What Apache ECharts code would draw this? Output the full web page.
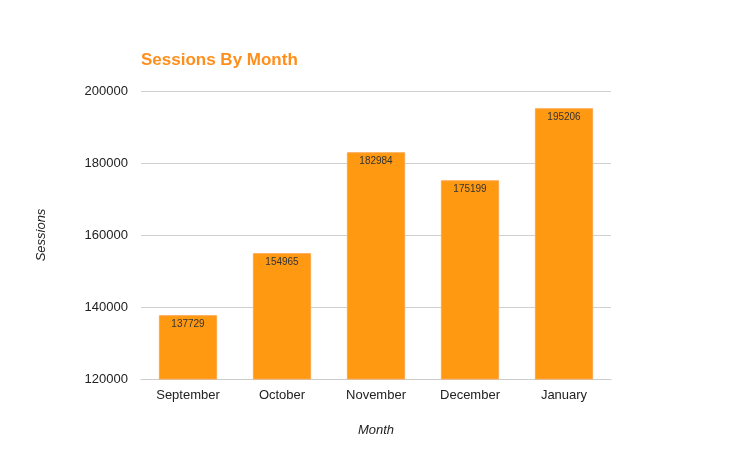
<!DOCTYPE html>
<html>
<head>
<meta charset="utf-8">
<script src="https://cdn.jsdelivr.net/npm/echarts@6/dist/echarts.min.js"></script>
<style>
  html, body { margin: 0; padding: 0; background: #fff; }
  #chart { width: 750px; height: 468px; }
</style>
</head>
<body>
<div id="chart"></div>
<script>
const months = ["September", "October", "November", "December", "January"];
const sessions = [137729, 154965, 182984, 175199, 195206];

const chart = echarts.init(document.getElementById("chart"));

chart.setOption({
    backgroundColor: "#fff",
    animation: false,
    title: {
        text: "Sessions By Month",
        left: 136,
        top: 47,
        textStyle: { color: "#ff8f1c", fontSize: 17, fontWeight: "bold", fontFamily: "Liberation Sans" }
    },
    grid: { left: 141, right: 139, top: 91, bottom: 89 },
    xAxis: {
        type: "category",
        data: months,
        name: "Month",
        nameLocation: "middle",
        nameGap: 45,
        nameTextStyle: { fontStyle: "italic", fontSize: 13, color: "#222", fontFamily: "Liberation Sans" },
        axisLine: { lineStyle: { color: "#ccc" } },
        axisTick: { show: false },
        axisLabel: { color: "#222", fontSize: 13, margin: 10, fontFamily: "Liberation Sans" }
    },
    yAxis: {
        type: "value",
        min: 120000,
        max: 200000,
        interval: 20000,
        name: "Sessions",
        nameLocation: "middle",
        nameGap: 93,
        nameTextStyle: { fontStyle: "italic", fontSize: 13, color: "#222", fontFamily: "Liberation Sans" },
        axisLine: { show: false },
        axisTick: { show: false },
        axisLabel: { color: "#222", fontSize: 13, margin: 13, fontFamily: "Liberation Sans", formatter: v => String(v) },
        splitLine: { lineStyle: { color: "#d0d0d0" } }
    },
    series: [{
        type: "bar",
        data: sessions,
        barWidth: "62%",
        itemStyle: { color: "#ff9912", borderColor: "#ffa64d", borderWidth: 1 },
        label: {
            show: true,
            position: "insideTop",
            distance: 4,
            color: "#333",
            fontSize: 10,
            fontFamily: "Liberation Sans"
        }
    }]
});
</script>
</body>
</html>
